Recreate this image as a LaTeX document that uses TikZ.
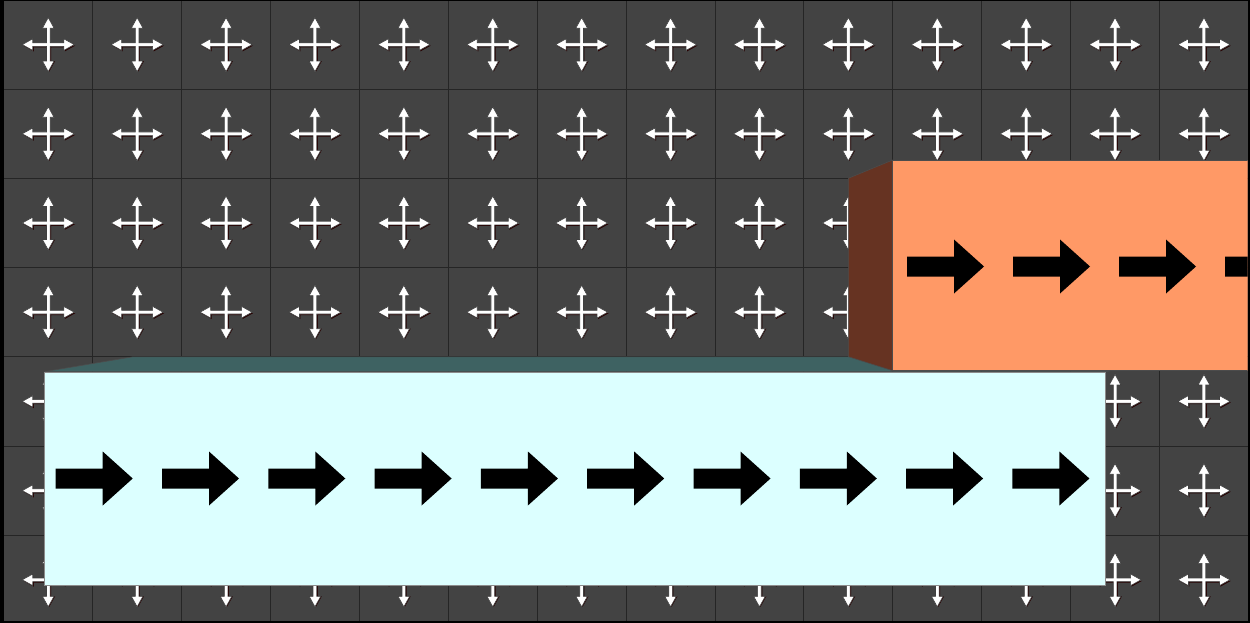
\documentclass[tikz,border=0pt]{standalone}
\begin{document}
\begin{tikzpicture}[x=1pt,y=-1pt]
\definecolor{bgc}{HTML}{434343}
\definecolor{gridc}{HTML}{252525}
\definecolor{cyanf}{HTML}{DCFFFF}
\definecolor{tealtop}{HTML}{3E6262}
\definecolor{brownside}{HTML}{663322}
\definecolor{orangef}{HTML}{FF9966}
\tikzset{
  gridline/.style={draw=gridc, line width=0.9pt},
  movecross/.pic={
    \fill[black!85!red] (1,1) ++(26,0) -- ++(-10.5,5.8) -- ++(0,-4) -- ++(-13.7,0) -- ++(0,13.7) -- ++(4,0)
      -- ++(-5.8,10.5) -- ++(-5.8,-10.5) -- ++(4,0) -- ++(0,-13.7) -- ++(-13.7,0) -- ++(0,4)
      -- ++(-10.5,-5.8) -- cycle;
    \filldraw[fill=white, draw=black!75, line width=0.6pt, line join=miter]
      (26,0) -- (15.5,5.8) -- (15.5,1.8) -- (1.8,1.8) -- (1.8,16.5) -- (5.8,16.5)
      -- (0,27) -- (-5.8,16.5) -- (-1.8,16.5) -- (-1.8,1.8) -- (-15.5,1.8)
      -- (-15.5,5.8) -- (-26,0) -- (-15.5,-5.8) -- (-15.5,-1.8) -- (-1.8,-1.8)
      -- (-1.8,-16.5) -- (-5.8,-16.5) -- (0,-27) -- (5.8,-16.5) -- (1.8,-16.5)
      -- (1.8,-1.8) -- (15.5,-1.8) -- (15.5,-5.8) -- cycle;
  },
  blockarrow/.pic={
    \fill[black] (0,-10) -- (47,-10) -- (47,-27) -- (77,0) -- (47,27) -- (47,10) -- (0,10) -- cycle;
  },
  boxedge/.style={draw=black!70, line width=0.6pt},
}
\useasboundingbox (0,0) rectangle (1250,623);
% frame and background
\fill[black] (0,0) rectangle (1250,623);
\fill[bgc] (3.8,1) rectangle (1247.5,620.5);
% grid
\foreach \i in {1,...,13} \draw[gridline] ({3.8+88.9*\i},1) -- ({3.8+88.9*\i},620.5);
\foreach \j in {1,...,6} \draw[gridline] (3.8,{89.2*\j}) -- (1247.5,{89.2*\j});
% move crosses
\foreach \i in {0,...,13}
  \foreach \j in {0,...,6}
    \pic at ({48.25+88.9*\i},{44.6+89.2*\j}) {movecross};
% cyan box
\filldraw[fill=tealtop, boxedge] (44.3,371.7) -- (133,356.8) -- (1194,356.8) -- (1105,371.7) -- cycle;
\filldraw[fill=cyanf, draw=black!45] (44.3,371.7) rectangle (1105,585);
\foreach \k in {0,...,9}
  \pic at ({55.7+106.3*\k},478.5) {blockarrow};
% orange box
\filldraw[fill=brownside, boxedge] (848.3,178.3) -- (892.7,160) -- (892.7,370.7) -- (848.3,356.7) -- cycle;
\begin{scope}
  \clip (0,0) rectangle (1247.5,623);
  \filldraw[fill=orangef, boxedge] (892.7,160) rectangle (1260,370.7);
  \foreach \k in {0,...,3}
    \pic at ({907+106*\k},266.5) {blockarrow};
\end{scope}
\end{tikzpicture}
\end{document}
